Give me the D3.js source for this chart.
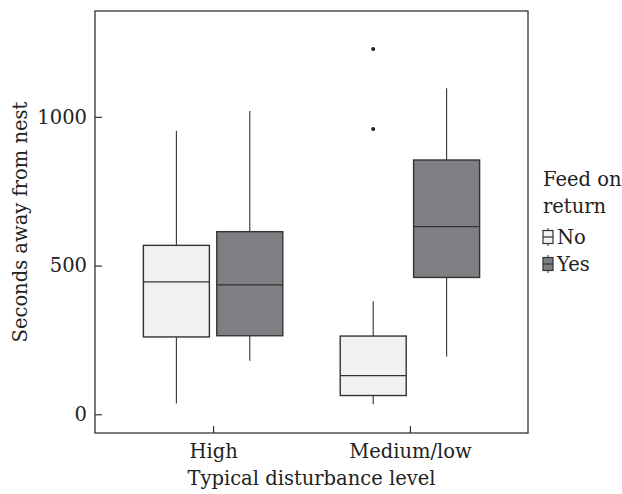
<!DOCTYPE html>
<html>
<head>
<meta charset="utf-8">
<script src="https://cdn.jsdelivr.net/npm/d3@7"></script>
<style>
  body { margin: 0; background: #fff; }
  text { font-family: "DejaVu Serif", "Liberation Serif", serif; fill: #222; }
</style>
</head>
<body>
<div id="chart"></div>
<script>
/* DATA */
const categories = ["High", "Medium/low"];
const groups = ["No", "Yes"];
const groupColors = ["#f0f1f3", "#7e7f82"];
// box stats per category, order: No, Yes
const lowWhisker = [[36, 180], [34, 194]];
const q1 = [[260, 264], [63, 460]];
const median = [[445, 435], [130, 631]];
const q3 = [[568, 614], [263, 855]];
const highWhisker = [[953, 1020], [380, 1096]];
const outliers = [[[], []], [[959, 1228], []]];
const yTicks = [0, 500, 1000];

/* SVG CANVAS */
const width = 622;
const height = 494;
const panel = { left: 95, top: 11, right: 528, bottom: 433 };
const fontSize = "19.5px";

const svg = d3.select("#chart")
    .append("svg")
    .attr("width", width)
    .attr("height", height);

/* SCALES */
const x = d3.scalePoint()
    .domain(categories)
    .range([panel.left, panel.right])
    .padding(0.6);

const dodge = d3.scalePoint()
    .domain(groups)
    .range([-36.7, 36.7]);

const boxWidth = 66;

const y = d3.scaleLinear()
    .domain([-63, 1356])
    .range([panel.bottom, panel.top]);

/* BOXES */
categories.forEach(function(cat, i) {
    groups.forEach(function(g, j) {
        const cx = x(cat) + dodge(g);
        const box = svg.append("g");

        box.append("line")
            .attr("x1", cx).attr("x2", cx)
            .attr("y1", y(highWhisker[i][j])).attr("y2", y(q3[i][j]))
            .attr("stroke", "#333").attr("stroke-width", 1.1);

        box.append("line")
            .attr("x1", cx).attr("x2", cx)
            .attr("y1", y(q1[i][j])).attr("y2", y(lowWhisker[i][j]))
            .attr("stroke", "#333").attr("stroke-width", 1.1);

        box.append("rect")
            .attr("x", cx - boxWidth / 2)
            .attr("y", y(q3[i][j]))
            .attr("width", boxWidth)
            .attr("height", y(q1[i][j]) - y(q3[i][j]))
            .attr("fill", groupColors[j])
            .attr("stroke", "#333")
            .attr("stroke-width", 1.4);

        box.append("line")
            .attr("x1", cx - boxWidth / 2).attr("x2", cx + boxWidth / 2)
            .attr("y1", y(median[i][j])).attr("y2", y(median[i][j]))
            .attr("stroke", "#333").attr("stroke-width", 1.4);

        box.selectAll("circle")
            .data(outliers[i][j])
            .enter()
            .append("circle")
            .attr("cx", cx)
            .attr("cy", function(d) { return y(d); })
            .attr("r", 2)
            .attr("fill", "#222");
    });
});

/* PANEL BORDER */
svg.append("rect")
    .attr("x", panel.left)
    .attr("y", panel.top)
    .attr("width", panel.right - panel.left)
    .attr("height", panel.bottom - panel.top)
    .attr("fill", "none")
    .attr("stroke", "#333")
    .attr("stroke-width", 1.3);

/* AXES */
const yAxis = svg.append("g")
    .attr("transform", "translate(" + panel.left + ",0)")
    .call(d3.axisLeft(y).tickValues(yTicks).tickFormat(d3.format("d"))
        .tickSizeInner(-7).tickSizeOuter(0).tickPadding(8));
yAxis.select(".domain").remove();
yAxis.selectAll("line").attr("stroke", "#333").attr("stroke-width", 1.2);
yAxis.selectAll("text")
    .style("font-family", "'DejaVu Serif', serif")
    .style("font-size", fontSize)
    .attr("fill", "#222");

const xAxis = svg.append("g")
    .attr("transform", "translate(0," + panel.bottom + ")")
    .call(d3.axisBottom(x).tickSizeInner(-7).tickSizeOuter(0).tickPadding(11));
xAxis.select(".domain").remove();
xAxis.selectAll("line").attr("stroke", "#333").attr("stroke-width", 1.2);
xAxis.selectAll("text")
    .style("font-family", "'DejaVu Serif', serif")
    .style("font-size", fontSize)
    .attr("fill", "#222");

/* AXIS TITLES */
svg.append("text")
    .attr("x", (panel.left + panel.right) / 2)
    .attr("y", 485)
    .attr("text-anchor", "middle")
    .style("font-size", fontSize)
    .text("Typical disturbance level");

svg.append("text")
    .attr("transform", "translate(27," + (panel.top + panel.bottom) / 2 + ") rotate(-90)")
    .attr("text-anchor", "middle")
    .style("font-size", fontSize)
    .text("Seconds away from nest");

/* LEGEND */
const legend = svg.append("g").attr("transform", "translate(543,0)");
legend.append("text").attr("x", 0).attr("y", 186).style("font-size", fontSize).text("Feed on");
legend.append("text").attr("x", 0).attr("y", 213).style("font-size", fontSize).text("return");

groups.forEach(function(g, j) {
    const ly = 237 + j * 27;
    const key = legend.append("g").attr("transform", "translate(5," + ly + ")");
    key.append("line").attr("x1", 0).attr("x2", 0).attr("y1", -9).attr("y2", 9)
        .attr("stroke", "#333").attr("stroke-width", 1);
    key.append("rect").attr("x", -5).attr("y", -6.5).attr("width", 10).attr("height", 13)
        .attr("fill", groupColors[j]).attr("stroke", "#333").attr("stroke-width", 1.2);
    key.append("line").attr("x1", -5).attr("x2", 5).attr("y1", 0).attr("y2", 0)
        .attr("stroke", "#333").attr("stroke-width", 1.2);
    legend.append("text").attr("x", 14).attr("y", ly + 7).style("font-size", fontSize).text(g);
});
</script>
</body>
</html>
